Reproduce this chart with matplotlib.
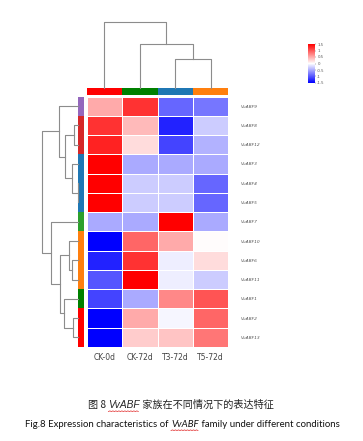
import numpy as np
import matplotlib.pyplot as plt
from matplotlib.colors import LinearSegmentedColormap, ListedColormap
from matplotlib.lines import Line2D

# data (row-scaled expression, rows in display order)
samples = ["CK-0d", "CK-72d", "T3-72d", "T5-72d"]
genes = ["VvABF9", "VvABF8", "VvABF12", "VvABF3", "VvABF4", "VvABF5", "VvABF7",
         "VvABF10", "VvABF6", "VvABF11", "VvABF1", "VvABF2", "VvABF13"]
ck_0d = [0.5, 1.2, 1.3, 1.5, 1.5, 1.5, -0.5, -1.5, -1.3, -1.0, -1.1, -1.5, -1.5]
ck_72d = [1.2, 0.4, 0.2, -0.5, -0.3, -0.3, -0.5, 0.9, 1.2, 1.5, -0.5, 0.5, 0.3]
t3_72d = [-0.9, -1.3, -1.1, -0.5, -0.3, -0.3, 1.5, 0.5, -0.1, -0.1, 0.7, -0.05, 0.35]
t5_72d = [-0.8, -0.3, -0.45, -0.5, -0.9, -0.9, -0.5, 0.02, 0.2, -0.3, 1.0, 0.9, 0.8]

gene_colors = ["#9467bd", "#d62728", "#d62728", "#1f77b4", "#1f77b4", "#1f77b4", "#2ca02c",
               "#ff7f0e", "#ff7f0e", "#ff7f0e", "#008000", "#ff0000", "#ff0000"]
sample_colors = ["#ff0000", "#008000", "#1f77b4", "#ff7f0e"]

# tree merges: (a, b, height); index < n is a leaf, n+k is the k-th merge
row_merges = [
    (4, 5, 0.02),
    (1, 2, 0.12),
    (3, 13, 0.185),
    (14, 15, 0.367),
    (0, 16, 0.52),
    (8, 9, 0.185),
    (7, 18, 0.25),
    (11, 12, 0.14),
    (10, 20, 0.386),
    (19, 21, 0.50),
    (6, 22, 0.755),
    (17, 23, 1.0),
]
col_merges = [(2, 3, 0.44), (1, 4, 0.665), (0, 5, 1.0)]

W, H = 363, 441


def box(x0, y0, x1, y1):
    # pixel box (from top-left) -> figure fraction rect
    return [x0 / W, 1 - y1 / H, (x1 - x0) / W, (y1 - y0) / H]


def draw_tree(ax, n, merges, vertical):
    pos = {i: i + 0.5 for i in range(n)}
    hgt = {i: 0.0 for i in range(n)}
    for k, (a, b, h) in enumerate(merges):
        p = [pos[a], pos[a], pos[b], pos[b]]
        q = [hgt[a], h, h, hgt[b]]
        if vertical:
            ax.plot(p, q, color="#8c8c8c", lw=0.8, clip_on=False)
        else:
            ax.plot(q, p, color="#8c8c8c", lw=0.8, clip_on=False)
        pos[n + k] = (pos[a] + pos[b]) / 2
        hgt[n + k] = h
    ax.axis("off")


data = np.array([ck_0d, ck_72d, t3_72d, t5_72d]).T
cmap = LinearSegmentedColormap.from_list("bwr2", ["#0000ff", "#ffffff", "#ff0000"])

fig = plt.figure(figsize=(W / 100, H / 100), dpi=100)

ax = fig.add_axes(box(86.7, 96.5, 228.3, 347))
mesh = ax.pcolormesh(data, cmap=cmap, vmin=-1.5, vmax=1.5, edgecolors="white", linewidth=0.7)
ax.set_xlim(0, len(samples))
ax.set_ylim(len(genes), 0)
ax.set_xticks(np.arange(len(samples)) + 0.5)
ax.set_xticklabels(samples, fontsize=5.5, color="#444444")
ax.yaxis.tick_right()
ax.set_yticks(np.arange(len(genes)) + 0.5)
ax.set_yticklabels(genes, fontsize=3.2, color="#555555", style="italic")
ax.tick_params(length=0)
ax.tick_params(axis="x", pad=4)
ax.tick_params(axis="y", pad=9)
for s in ax.spines.values():
    s.set_visible(False)

# column color bar
axc = fig.add_axes(box(86.7, 88.3, 228.3, 94.5))
axc.pcolormesh(np.arange(len(samples))[None, :], cmap=ListedColormap(sample_colors))
axc.axis("off")

# row color bar
axr = fig.add_axes(box(78.3, 96.5, 84.3, 347))
axr.pcolormesh(np.arange(len(genes))[:, None], cmap=ListedColormap(gene_colors))
axr.set_ylim(len(genes), 0)
axr.axis("off")

# dendrograms
axcd = fig.add_axes(box(86.7, 21.7, 228.3, 88.3))
draw_tree(axcd, len(samples), col_merges, True)
axcd.set_xlim(0, len(samples))
axcd.set_ylim(0, 1.0)

axrd = fig.add_axes(box(41.7, 96.5, 78.3, 347))
draw_tree(axrd, len(genes), row_merges, False)
axrd.set_xlim(1.0, 0)
axrd.set_ylim(len(genes), 0)

# colorbar
cax = fig.add_axes(box(307.5, 44, 314.5, 83))
cb = fig.colorbar(mesh, cax=cax, ticks=[-1.5, -1, -0.5, 0, 0.5, 1, 1.5])
cb.ax.set_yticklabels(["-1.5", "-1", "-0.5", "0", "0.5", "1", "1.5"])
cb.ax.tick_params(labelsize=2.8, length=1, width=0.3, pad=1, colors="#555555")
cb.outline.set_visible(False)

# captions
cjk = ["Noto Sans CJK SC", "DejaVu Sans"]
t1 = fig.text(88 / W, 1 - 408 / H, "图 8 ", fontsize=7.3, family=cjk, color="#222222")
t2 = plt.annotate("VvABF", xy=(1, 0), xycoords=t1, va="bottom", ha="left",
                  fontsize=7.3, style="italic", family="Liberation Sans", color="#222222",
                  annotation_clip=False)
t3 = plt.annotate(" 家族在不同情况下的表达特征", xy=(1, 0), xycoords=t2, va="bottom", ha="left",
                  fontsize=7.3, family=cjk, color="#222222", annotation_clip=False)

e1 = fig.text(25 / W, 1 - 427 / H, "Fig.8 Expression characteristics of ", fontsize=6.9,
              family="Lato", color="#111111")
e2 = plt.annotate("VvABF", xy=(1, 0), xycoords=e1, va="bottom", ha="left",
                  fontsize=6.9, style="italic", family="Lato", color="#111111",
                  annotation_clip=False)
e3 = plt.annotate(" family under different conditions", xy=(1, 0), xycoords=e2,
                  va="bottom", ha="left", fontsize=6.9, family="Lato", color="#111111",
                  annotation_clip=False)

# red wavy spell-check underline
fig.canvas.draw()
for t in (t2, e2):
    bb = t.get_window_extent()
    xs = np.arange(bb.x0, bb.x1, 1.5)
    ys = bb.y0 - 1.5 + 0.6 * (np.arange(len(xs)) % 2)
    fig.add_artist(Line2D(xs / W, ys / H, color="#e02020", lw=0.5))

fig.savefig("out.png", dpi=100)
